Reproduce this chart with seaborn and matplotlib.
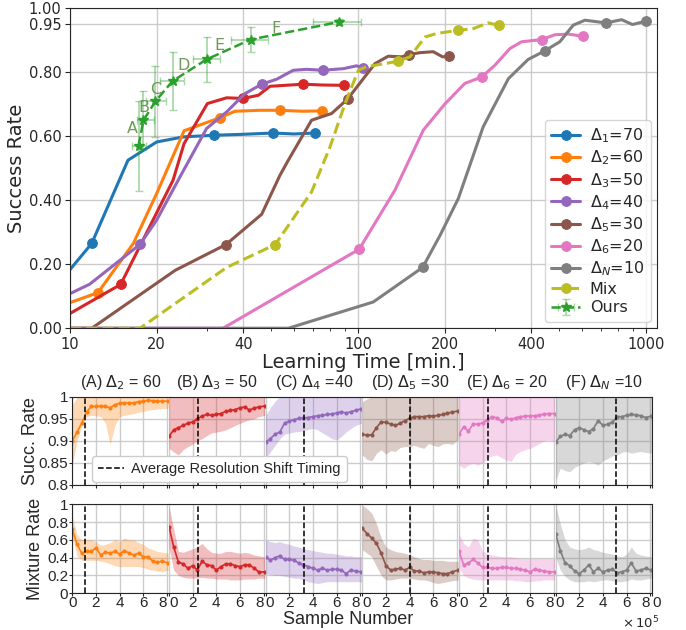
import matplotlib
matplotlib.use('Agg')
import matplotlib.pyplot as plt
import matplotlib.ticker as mticker
from matplotlib.lines import Line2D
import seaborn as sns

# ---- top panel: success rate vs learning time ----
d1_x = [10, 11.9, 15.9, 20, 24.8, 31.7, 40, 50.8, 60, 70.9]
d1_y = [0.183, 0.265, 0.525, 0.582, 0.598, 0.603, 0.606, 0.61, 0.607, 0.61]
d1_mk = [1, 5, 7, 9]

d2_x = [10, 12.5, 16.6, 20, 24.9, 33.2, 37.4, 45.7, 53.5, 64, 74.8]
d2_y = [0.080, 0.111, 0.265, 0.421, 0.617, 0.658, 0.678, 0.681, 0.681, 0.678, 0.679]
d2_mk = [1, 5, 8, 10]

d3_x = [10, 15.0, 22.8, 24.9, 30.0, 35.0, 40, 45.1, 49.5, 64.5, 75, 89.6]
d3_y = [0.046, 0.137, 0.4625, 0.577, 0.702, 0.72, 0.718, 0.728, 0.756, 0.7625, 0.76, 0.759]
d3_mk = [1, 6, 9, 11]

d4_x = [10, 11.7, 17.5, 20, 24.1, 29.8, 35, 40.5, 46.3, 52.2, 59.6, 66.3, 75.4, 89, 98.9, 103.7]
d4_y = [0.108, 0.1375, 0.262, 0.338, 0.473, 0.624, 0.676, 0.733, 0.7625, 0.778, 0.806, 0.809,
        0.806, 0.811, 0.82, 0.813]
d4_mk = [2, 8, 12, 15]

d5_x = [10, 11.9, 23.2, 34.8, 46.3, 53.6, 57.3, 69, 81, 92, 114.6, 127.4, 141.8, 150.4, 164,
        182.6, 196.7, 207.5]
d5_y = [0, 0, 0.181, 0.2615, 0.356, 0.478, 0.525, 0.65, 0.671, 0.716, 0.827, 0.85, 0.848,
        0.855, 0.861, 0.864, 0.848, 0.85]
d5_mk = [3, 9, 13, 17]

d6_x = [10, 34.0, 101, 134.3, 168.6, 200, 235, 269, 299, 337, 370, 434, 483, 538, 603]
d6_y = [0, 0, 0.247, 0.431, 0.619, 0.70, 0.765, 0.785, 0.822, 0.874, 0.895, 0.902, 0.917,
        0.919, 0.9125]
d6_mk = [2, 7, 11, 14]

dn_x = [10, 57.3, 113, 167.7, 192.7, 223, 272, 333, 390, 446, 502, 559, 614, 726, 823, 898, 1004]
dn_y = [0, 0, 0.082, 0.19, 0.29, 0.405, 0.629, 0.78, 0.84, 0.867, 0.895, 0.947, 0.9625, 0.954,
        0.964, 0.949, 0.96]
dn_mk = [3, 9, 13, 16]

mix_x = [10, 17.5, 35, 51.6, 69, 80, 90.2, 100.3, 107, 137.5, 151.5, 171, 187.5, 223, 251,
         283.5, 309]
mix_y = [0, 0, 0.19, 0.2615, 0.426, 0.567, 0.702, 0.806, 0.817, 0.834, 0.848, 0.91, 0.921,
         0.931, 0.936, 0.954, 0.946]
mix_mk = [3, 9, 13, 16]

ours_x = [17.3, 18.0, 19.8, 22.7, 29.8, 42.4, 86.1]
ours_y = [0.570, 0.65, 0.709, 0.772, 0.84, 0.902, 0.957]
ours_xlo = [0.9, 0.9, 1.4, 2.2, 3.0, 6.1, 16.5]
ours_xhi = [1.1, 1.5, 1.7, 2.2, 3.3, 6.5, 16.4]
ours_yerr = [0.14, 0.09, 0.11, 0.09, 0.07, 0.04, 0.01]
ours_tags = ['A', 'B', 'C', 'D', 'E', 'F']
tag_offsets = [(-6, 17), (0, 13), (0, 12), (11, 16), (13, 14), (25, 11)]

# ---- bottom panels: success / mixture rate vs sample number (x 1e5) ----
sample_x = [0.0, 0.4, 0.8, 1.2, 1.6, 2.0, 2.4, 2.8, 3.2, 3.6, 4.0, 4.4, 4.8, 5.2, 5.6, 6.0,
            6.4, 6.8, 7.2, 7.6, 8.1]
panel_titles = [r'(A) $\Delta_2$ = 60', r'(B) $\Delta_3$ = 50', r'(C) $\Delta_4$ =40',
                r'(D) $\Delta_5$ =30', r'(E) $\Delta_6$ = 20', r'(F) $\Delta_N$ =10']
shift_timing = [1.07, 2.45, 3.24, 4.03, 2.42, 5.13]

succ_A = [0.90, 0.92, 0.94, 0.965, 0.978, 0.978, 0.979, 0.978, 0.975, 0.982, 0.985, 0.986,
          0.986, 0.986, 0.989, 0.99, 0.992, 0.991, 0.99, 0.99, 0.99]
succ_A_lo = [0.845, 0.9, 0.935, 0.955, 0.958, 0.957, 0.955, 0.94, 0.892, 0.935, 0.955, 0.958,
             0.96, 0.962, 0.965, 0.967, 0.97, 0.971, 0.972, 0.973, 0.974]
succ_A_hi = [0.982, 0.998, 1, 1, 1, 1, 1, 1, 1, 1, 1, 1, 1, 1, 1, 1, 1, 1, 1, 1, 1]

succ_B = [0.91, 0.925, 0.93, 0.935, 0.94, 0.943, 0.95, 0.956, 0.96, 0.958, 0.96, 0.962, 0.967,
          0.969, 0.971, 0.975, 0.977, 0.97, 0.974, 0.977, 0.979]
succ_B_lo = [0.883, 0.875, 0.868, 0.88, 0.887, 0.893, 0.9, 0.905, 0.912, 0.918, 0.92, 0.922,
             0.925, 0.93, 0.935, 0.94, 0.944, 0.948, 0.95, 0.955, 0.958]
succ_B_hi = [1] * 21

succ_C = [0.897, 0.905, 0.915, 0.92, 0.94, 0.945, 0.948, 0.951, 0.952, 0.953, 0.955, 0.957,
          0.958, 0.96, 0.961, 0.963, 0.966, 0.963, 0.966, 0.969, 0.973]
succ_C_lo = [0.86, 0.875, 0.89, 0.905, 0.915, 0.918, 0.92, 0.921, 0.923, 0.926, 0.928, 0.925,
             0.918, 0.912, 0.905, 0.902, 0.91, 0.92, 0.928, 0.935, 0.94]
succ_C_hi = [0.958, 0.975, 0.99, 1, 1, 1, 1, 1, 1, 1, 1, 1, 1, 1, 1, 1, 1, 1, 1, 1, 1]

succ_D = [0.915, 0.913, 0.914, 0.93, 0.943, 0.942, 0.938, 0.935, 0.94, 0.946, 0.951, 0.955,
          0.955, 0.955, 0.957, 0.956, 0.958, 0.96, 0.963, 0.965, 0.968]
succ_D_lo = [0.868, 0.858, 0.855, 0.872, 0.88, 0.87, 0.878, 0.876, 0.885, 0.887, 0.887, 0.89,
             0.886, 0.883, 0.894, 0.89, 0.887, 0.893, 0.894, 0.892, 0.902]
succ_D_hi = [0.989, 0.995, 1, 1, 1, 1, 1, 1, 1, 1, 1, 1, 1, 1, 1, 1, 1, 1, 1, 1, 1]

succ_E = [0.915, 0.932, 0.922, 0.938, 0.938, 0.941, 0.948, 0.955, 0.952, 0.944, 0.951, 0.949,
          0.952, 0.955, 0.956, 0.957, 0.957, 0.958, 0.961, 0.962, 0.962]
succ_E_lo = [0.845, 0.838, 0.845, 0.849, 0.845, 0.85, 0.86, 0.866, 0.868, 0.862, 0.857, 0.853,
             0.87, 0.876, 0.88, 0.883, 0.888, 0.894, 0.9, 0.902, 0.898]
succ_E_hi = [1] * 21

succ_F = [0.897, 0.91, 0.915, 0.912, 0.925, 0.93, 0.925, 0.921, 0.928, 0.946, 0.935, 0.938,
          0.942, 0.955, 0.955, 0.958, 0.96, 0.959, 0.957, 0.953, 0.956]
succ_F_lo = [0.81, 0.838, 0.833, 0.83, 0.84, 0.845, 0.85, 0.853, 0.85, 0.845, 0.855, 0.86,
             0.866, 0.868, 0.874, 0.876, 0.872, 0.874, 0.876, 0.874, 0.872]
succ_F_hi = [1] * 21

mixr_A = [0.72, 0.55, 0.45, 0.47, 0.47, 0.51, 0.43, 0.46, 0.45, 0.47, 0.44, 0.48, 0.45, 0.43,
          0.45, 0.41, 0.41, 0.36, 0.35, 0.36, 0.34]
mixr_A_lo = [0.64, 0.42, 0.37, 0.37, 0.37, 0.37, 0.36, 0.35, 0.33, 0.31, 0.30, 0.30, 0.30, 0.30,
             0.30, 0.29, 0.27, 0.26, 0.25, 0.24, 0.26]
mixr_A_hi = [0.86, 0.66, 0.6, 0.6, 0.6, 0.58, 0.54, 0.55, 0.57, 0.6, 0.58, 0.62, 0.6, 0.6, 0.57,
             0.55, 0.51, 0.49, 0.47, 0.46, 0.45]

mixr_B = [0.75, 0.52, 0.35, 0.33, 0.28, 0.31, 0.26, 0.36, 0.32, 0.31, 0.26, 0.30, 0.33, 0.33,
          0.31, 0.30, 0.32, 0.32, 0.28, 0.24, 0.24]
mixr_B_lo = [0.52, 0.26, 0.2, 0.18, 0.17, 0.17, 0.17, 0.18, 0.17, 0.17, 0.16, 0.16, 0.16, 0.15,
             0.15, 0.15, 0.16, 0.16, 0.16, 0.17, 0.17]
mixr_B_hi = [0.98, 0.72, 0.47, 0.46, 0.48, 0.5, 0.52, 0.56, 0.5, 0.46, 0.45, 0.45, 0.47, 0.47,
             0.46, 0.45, 0.46, 0.45, 0.43, 0.42, 0.41]

mixr_C = [0.41, 0.37, 0.40, 0.42, 0.38, 0.38, 0.37, 0.34, 0.32, 0.30, 0.28, 0.26, 0.28, 0.26,
          0.27, 0.27, 0.26, 0.22, 0.26, 0.25, 0.24]
mixr_C_lo = [0.22, 0.21, 0.2, 0.2, 0.19, 0.18, 0.17, 0.17, 0.15, 0.13, 0.12, 0.11, 0.12, 0.13,
             0.13, 0.13, 0.13, 0.13, 0.13, 0.13, 0.13]
mixr_C_hi = [0.6, 0.58, 0.57, 0.58, 0.56, 0.55, 0.53, 0.52, 0.5, 0.49, 0.48, 0.47, 0.46, 0.45,
             0.45, 0.44, 0.43, 0.42, 0.42, 0.41, 0.41]

mixr_D = [0.73, 0.67, 0.62, 0.56, 0.45, 0.31, 0.26, 0.27, 0.28, 0.26, 0.29, 0.25, 0.25, 0.23,
          0.24, 0.24, 0.23, 0.22, 0.22, 0.24, 0.26]
mixr_D_lo = [0.49, 0.45, 0.41, 0.3, 0.2, 0.15, 0.15, 0.16, 0.17, 0.17, 0.17, 0.16, 0.15, 0.15,
             0.14, 0.12, 0.11, 0.12, 0.13, 0.14, 0.15]
mixr_D_hi = [0.99, 0.95, 0.9, 0.78, 0.62, 0.52, 0.49, 0.47, 0.46, 0.45, 0.43, 0.41, 0.39, 0.38,
             0.38, 0.37, 0.37, 0.37, 0.36, 0.36, 0.36]

mixr_E = [0.47, 0.32, 0.34, 0.38, 0.34, 0.29, 0.29, 0.28, 0.28, 0.29, 0.29, 0.28, 0.28, 0.27,
          0.26, 0.24, 0.27, 0.26, 0.25, 0.24, 0.24]
mixr_E_lo = [0.28, 0.2, 0.17, 0.16, 0.15, 0.15, 0.15, 0.15, 0.15, 0.15, 0.15, 0.15, 0.14, 0.14,
             0.13, 0.13, 0.14, 0.14, 0.15, 0.15, 0.15]
mixr_E_hi = [0.67, 0.56, 0.52, 0.62, 0.6, 0.47, 0.45, 0.43, 0.42, 0.41, 0.41, 0.41, 0.4, 0.39,
             0.39, 0.39, 0.39, 0.39, 0.39, 0.39, 0.39]

mixr_F = [0.67, 0.48, 0.34, 0.31, 0.25, 0.22, 0.26, 0.32, 0.24, 0.28, 0.24, 0.26, 0.27, 0.23,
          0.24, 0.26, 0.34, 0.25, 0.26, 0.28, 0.26]
mixr_F_lo = [0.41, 0.26, 0.19, 0.15, 0.13, 0.13, 0.13, 0.14, 0.13, 0.14, 0.15, 0.15, 0.14, 0.13,
             0.13, 0.14, 0.16, 0.15, 0.15, 0.16, 0.17]
mixr_F_hi = [1.0, 0.78, 0.6, 0.52, 0.5, 0.49, 0.5, 0.52, 0.49, 0.48, 0.46, 0.45, 0.44, 0.42,
             0.41, 0.44, 0.52, 0.45, 0.43, 0.42, 0.41]

pal = sns.color_palette('tab10')
sns.set_style('ticks')
plt.rcParams['font.family'] = ['DejaVu Sans']

fig = plt.figure(figsize=(6.86, 6.30), dpi=100)

# ---------------- top plot ----------------
ax = fig.add_axes([0.102, 0.479, 0.8557, 0.508])
curves = [
    (d1_x, d1_y, d1_mk, pal[0], r'$\Delta_1$=70', '-'),
    (d2_x, d2_y, d2_mk, pal[1], r'$\Delta_2$=60', '-'),
    (d3_x, d3_y, d3_mk, pal[3], r'$\Delta_3$=50', '-'),
    (d4_x, d4_y, d4_mk, pal[4], r'$\Delta_4$=40', '-'),
    (d5_x, d5_y, d5_mk, pal[5], r'$\Delta_5$=30', '-'),
    (d6_x, d6_y, d6_mk, pal[6], r'$\Delta_6$=20', '-'),
    (dn_x, dn_y, dn_mk, pal[7], r'$\Delta_N$=10', '-'),
    (mix_x, mix_y, mix_mk, pal[8], 'Mix', '--'),
]
for xs, ys, mk, col, lab, ls in curves:
    sns.lineplot(x=xs, y=ys, ax=ax, color=col, lw=2.2, linestyle=ls, marker='o',
                 markevery=mk, markersize=7, markeredgecolor=col, label=lab)

ax.errorbar(ours_x, ours_y, xerr=[ours_xlo, ours_xhi], yerr=ours_yerr, fmt='*--',
            color=pal[2], ecolor=(0.17, 0.63, 0.17, 0.4), elinewidth=1.3, capsize=3,
            lw=1.8, ms=7, label='Ours')
for tag, xx, yy, off in zip(ours_tags, ours_x, ours_y, tag_offsets):
    ax.annotate(tag, (xx, yy), xytext=off, textcoords='offset pixels', ha='center',
                va='center', fontsize=11.5, color='#5e8f45', alpha=0.9)

ax.set_xscale('log')
ax.set_xlim(10, 1092)
ax.set_ylim(0, 1.0)
ax.set_xticks([10, 20, 40, 100, 200, 400, 1000])
ax.xaxis.set_major_formatter(mticker.ScalarFormatter())
ax.xaxis.set_minor_formatter(mticker.NullFormatter())
ax.set_yticks([0, 0.2, 0.4, 0.6, 0.8, 0.95, 1.0])
ax.set_yticklabels(['0.00', '0.20', '0.40', '0.60', '0.80', '0.95', '1.00'])
ax.tick_params(labelsize=10.5, length=3.5, pad=2.5)
ax.tick_params(which='minor', length=2)
ax.grid(True, which='major', color='#cccccc', lw=1)
ax.set_xlabel('Learning Time [min.]', fontsize=14, labelpad=1)
ax.set_ylabel('Success Rate', fontsize=14, labelpad=2)
ax.legend(loc='lower right', fontsize=11.5, handlelength=1.8, labelspacing=0.22,
          handletextpad=0.6, borderaxespad=0.4)

# ---------------- bottom panels ----------------
sf = 'Liberation Sans'
succ_rows = [(succ_A, succ_A_lo, succ_A_hi), (succ_B, succ_B_lo, succ_B_hi),
             (succ_C, succ_C_lo, succ_C_hi), (succ_D, succ_D_lo, succ_D_hi),
             (succ_E, succ_E_lo, succ_E_hi), (succ_F, succ_F_lo, succ_F_hi)]
mix_rows = [(mixr_A, mixr_A_lo, mixr_A_hi), (mixr_B, mixr_B_lo, mixr_B_hi),
            (mixr_C, mixr_C_lo, mixr_C_hi), (mixr_D, mixr_D_lo, mixr_D_hi),
            (mixr_E, mixr_E_lo, mixr_E_hi), (mixr_F, mixr_F_lo, mixr_F_hi)]
panel_cols = [pal[1], pal[3], pal[4], pal[5], pal[6], pal[7]]

pw = 0.1409
xmax = 8.17
for i in range(6):
    col = panel_cols[i]
    a1 = fig.add_axes([0.1054 + i * pw, 0.2302, pw, 0.140])
    a2 = fig.add_axes([0.1054 + i * pw, 0.0583, pw, 0.1413])
    for a, (m, lo, hi) in [(a1, succ_rows[i]), (a2, mix_rows[i])]:
        a.fill_between(sample_x, lo, hi, color=col, alpha=0.3, lw=0)
        sns.lineplot(x=sample_x, y=m, ax=a, color=col, lw=1.2, marker='o', markersize=2.2,
                     markeredgecolor=col)
        a.axvline(shift_timing[i], color='k', ls='--', lw=1.1)
        a.set_xlim(0, xmax)
        a.grid(True, color='#cccccc', lw=1)
        a.tick_params(labelsize=11, labelfontfamily=sf, length=2, pad=1)
        a.tick_params(axis='x', pad=0)
        if i > 0:
            a.spines['left'].set_visible(False)
            a.tick_params(left=False, labelleft=False)
        if i < 5:
            a.spines['right'].set_visible(False)
    if i < 5:
        xt, xl = [0, 2, 4, 6, 8], ['0', '2', '4', '6', '8']
    else:
        xt, xl = [0, 2, 4, 6, 8, xmax], ['0', '2', '4', '6', '8', '0']
    for a in (a1, a2):
        a.set_xticks(xt)
        a.set_xticklabels(xl)
    ticks = a2.xaxis.get_major_ticks()
    ticks[4].label1.set_horizontalalignment('right')
    if i > 0:
        ticks[0].label1.set_horizontalalignment('left')
    if i == 5:
        ticks[5].label1.set_horizontalalignment('left')
    a1.set_ylim(0.8, 1.0)
    a1.set_yticks([0.8, 0.85, 0.9, 0.95, 1.0])
    a1.set_yticklabels(['0.8', '0.85', '0.9', '0.95', '1'])
    a1.tick_params(labelbottom=False)
    a1.set_title(panel_titles[i], fontsize=11.5, fontfamily=sf, pad=7)
    a2.set_ylim(0, 1.0)
    a2.set_yticks([0, 0.2, 0.4, 0.6, 0.8, 1.0])
    a2.set_yticklabels(['0', '0.2', '0.4', '0.6', '0.8', '1'])
    if i == 0:
        a1.set_ylabel('Succ. Rate', fontsize=13, fontfamily=sf, labelpad=0)
        a2.set_ylabel('Mixture Rate', fontsize=13, fontfamily=sf, labelpad=2)

fig.legend([Line2D([], [], color='k', ls='--', lw=1.1)], ['Average Resolution Shift Timing'],
           loc='lower left', bbox_to_anchor=(92 / 686, 148 / 630), prop={'family': sf, 'size': 10.5},
           handlelength=1.8, handletextpad=0.5, borderaxespad=0, framealpha=1)
fig.text(0.507, 0.016, 'Sample Number', ha='center', va='center', fontsize=13, fontfamily=sf)
fig.text(0.934, 0.011, r'$\times\,10^5$', ha='center', va='center', fontsize=9.5, fontfamily=sf)

fig.savefig('out.png', dpi=100)
